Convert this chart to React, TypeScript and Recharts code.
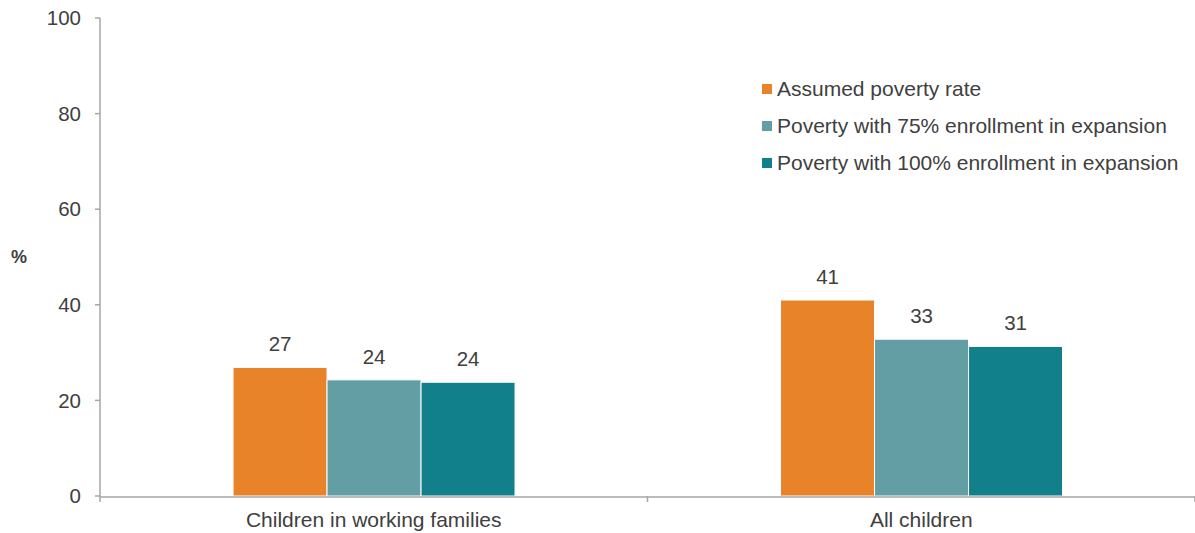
import React from "react";
import { BarChart, Bar, XAxis, YAxis, Legend, LabelList } from "recharts";

const categories = ["Children in working families", "All children"];
const assumedPoverty = [26.9, 41.0];
const poverty75 = [24.3, 32.8];
const poverty100 = [23.8, 31.3];
const yTicks = [0, 20, 40, 60, 80, 100];
const boundaryTicks = [0, 1, 2];
const seriesNames = [
  "Assumed poverty rate",
  "Poverty with 75% enrollment in expansion",
  "Poverty with 100% enrollment in expansion",
];
const colors = ["#E8832A", "#639EA5", "#11808A"];

const data = categories.map((c, i) => ({
  name: c,
  idx: i + 0.5,
  a: assumedPoverty[i],
  b: poverty75[i],
  c: poverty100[i],
}));

const FONT = "'Liberation Sans', Arial, sans-serif";
const TEXT = "#404040";
const FS = 20.5;

const LegendContent = (props: any) => {
  const payload = [...(props.payload || [])].sort(
    (p: any, q: any) => seriesNames.indexOf(p.value) - seriesNames.indexOf(q.value)
  );
  return (
    <div style={{ fontFamily: FONT, fontSize: 21, color: TEXT, textAlign: "left" }}>
      {payload.map((p: any, i: number) => (
        <div key={i} style={{ display: "flex", alignItems: "center", height: 37 }}>
          <span style={{ display: "inline-block", width: 10, height: 10, background: p.color, marginRight: 5 }} />
          <span>{p.value}</span>
        </div>
      ))}
    </div>
  );
};

const fmt = (v: any) => Math.round(Number(v)).toString();
const EmptyTick = () => <g />;

export default function App() {
  return (
    <div style={{ position: "absolute", left: 0, top: 0, width: 1195, height: 533, background: "#fff" }}>
      <BarChart
        width={1195}
        height={533}
        data={data}
        margin={{ top: 18, right: 0, bottom: 7, left: 0 }}
        barCategoryGap="24.3%"
        barGap={0}
      >
        <XAxis
          xAxisId="bounds"
          type="number"
          dataKey="idx"
          domain={[0, 2]}
          ticks={boundaryTicks}
          interval={0}
          axisLine={false}
          tick={<EmptyTick />}
          tickSize={6}
          tickLine={{ stroke: "#A6A6A6", strokeWidth: 1.5 }}
          height={1}
        />
        <XAxis
          dataKey="name"
          xAxisId="main"
          height={29}
          tickLine={false}
          axisLine={{ stroke: "#A6A6A6", strokeWidth: 1.5 }}
          tick={{ fontFamily: FONT, fontSize: 21, fill: TEXT }}
          tickMargin={9}
        />
        <YAxis
          width={100}
          domain={[0, 100]}
          ticks={yTicks}
          interval={0}
          tickSize={5}
          tickMargin={14}
          axisLine={{ stroke: "#A6A6A6", strokeWidth: 1.5 }}
          tickLine={{ stroke: "#A6A6A6", strokeWidth: 1.5 }}
          tick={{ fontFamily: FONT, fontSize: FS, fill: TEXT }}
          label={{
            value: "%",
            position: "insideLeft",
            dx: 6,
            style: { fontFamily: FONT, fontSize: 18, fontWeight: "bold", fill: TEXT },
          }}
        />
        <Legend
          layout="horizontal"
          verticalAlign="middle"
          align="center"
          content={<LegendContent />}
          wrapperStyle={{ position: "absolute", left: 762, top: 70, width: 430 }}
        />
        {(["a", "b", "c"] as const).map((k, i) => (
          <Bar
            key={k}
            xAxisId="main"
            dataKey={k}
            name={seriesNames[i]}
            fill={colors[i]}
            stroke="#fff"
            strokeWidth={1}
            isAnimationActive={false}
          >
            <LabelList
              dataKey={k}
              position="top"
              offset={16}
              formatter={fmt}
              style={{ fontFamily: FONT, fontSize: FS, fill: TEXT }}
            />
          </Bar>
        ))}
      </BarChart>
    </div>
  );
}
